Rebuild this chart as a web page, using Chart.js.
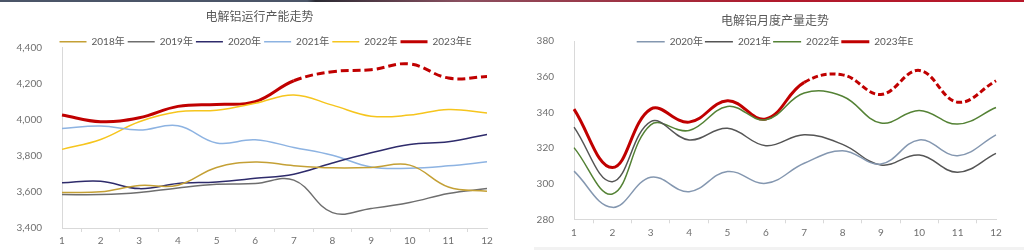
<!DOCTYPE html>
<html>
<head>
<meta charset="utf-8">
<script src="https://cdn.jsdelivr.net/npm/chart.js@4"></script>
<style>
  html, body { margin: 0; padding: 0; background: #fff; }
  body { width: 1024px; height: 250px; position: relative; overflow: hidden; }
  .topbar { position: absolute; left: 0; top: 0; width: 1024px; height: 2px; z-index: 2;
    background: linear-gradient(to right, #4b5568 0%, #4b5568 30%, #2a2a33 30.8%, #8a5060 45%, #b01a2c 75%, #b8182a 100%); }
  .box { position: absolute; top: 0; width: 512px; height: 250px; }
  #left { left: 0; }
  #right { left: 512px; }
  .band { position: absolute; left: 534px; top: 247px; width: 490px; height: 3px; background: #f2f2f2; }
</style>
</head>
<body>
<div class="topbar"></div>
<div class="band"></div>
<div class="box" id="left"><canvas id="c1" width="512" height="250"></canvas></div>
<div class="box" id="right"><canvas id="c2" width="512" height="250"></canvas></div>
<script>
// 月份
const months = ['1', '2', '3', '4', '5', '6', '7', '8', '9', '10', '11', '12'];

// 电解铝运行产能 (万吨)
const cap2018 = [3596, 3600, 3635, 3637, 3735, 3765, 3745, 3733, 3735, 3748, 3627, 3603];
const cap2019 = [3585, 3585, 3596, 3622, 3642, 3646, 3665, 3485, 3508, 3541, 3591, 3618];
const cap2020 = [3650, 3659, 3618, 3646, 3655, 3675, 3698, 3760, 3816, 3862, 3877, 3918];
const cap2021 = [3951, 3964, 3942, 3966, 3871, 3888, 3846, 3803, 3738, 3731, 3744, 3766];
const cap2022 = [3835, 3890, 3988, 4043, 4052, 4090, 4136, 4080, 4019, 4025, 4056, 4037];
const cap2023E = [4025, 3988, 4010, 4073, 4084, 4099, 4215, 4265, 4276, 4308, 4230, 4238];

// 电解铝月度产量 (万吨)
const out2020 = [307, 286.7, 303.6, 295.5, 306.8, 300.2, 311.4, 318.5, 311, 324.5, 315.7, 327.4];
const out2021 = [331.7, 301.1, 334.8, 324.5, 331, 321.3, 327.4, 322, 310.5, 316, 306.4, 317];
const out2022 = [320.2, 294.2, 333, 329.8, 343.3, 335.8, 350.8, 349, 334, 341, 333.4, 342.7];
const out2023E = [341.8, 309, 341.8, 334.5, 346.5, 336.3, 356.8, 361, 350, 363.5, 345.7, 357.7];

// 实际值到第7个月，之后为预测(虚线)
const lastActual = 6;

const fontFamily = "Lato, 'Noto Sans CJK SC', sans-serif";
const grey = '#6f6f6f';
const axisGrey = '#d9d9d9';

// 图例贴近绘图区、标题居中微调
const nudge = {
  id: 'nudge',
  afterLayout(chart, args, opts) {
    const lg = chart.legend;
    const tt = chart.titleBlock;
    lg.left += opts.legendDx;
    lg.right += opts.legendDx;
    lg.bottom += opts.legendClip;
    lg.height += opts.legendClip;
    tt.left += opts.titleDx;
    tt.right += opts.titleDx;
  }
};

function line(label, data, color, width) {
  return {
    label: label,
    data: data,
    borderColor: color,
    backgroundColor: color,
    borderWidth: width,
    pointRadius: 0,
    tension: 0.4,
    fill: false
  };
}

function forecast(label, data, dash) {
  const ds = line(label, data, '#c00000', 3);
  ds.borderDash = dash;
  ds.segment = {
    borderDash: ctx => (ctx.p0DataIndex < lastActual ? [] : undefined)
  };
  return ds;
}

function makeOptions(cfg) {
  return {
    responsive: false,
    animation: false,
    layout: { padding: cfg.padding },
    plugins: {
      nudge: cfg.nudge,
      title: {
        display: true,
        text: cfg.title,
        color: '#595959',
        font: { family: fontFamily, size: 12, weight: 'normal' },
        padding: cfg.titlePad
      },
      legend: {
        display: true,
        position: 'top',
        maxHeight: cfg.legendHeight,
        labels: {
          usePointStyle: true,
          pointStyle: 'line',
          pointStyleWidth: cfg.legendLine,
          padding: cfg.legendPad,
          color: '#595959',
          font: { family: fontFamily, size: 10 }
        }
      },
      tooltip: { enabled: false }
    },
    scales: {
      x: {
        grid: { display: true, offset: true, drawOnChartArea: false, drawTicks: true, tickLength: 4, color: axisGrey },
        border: { display: true, color: axisGrey },
        ticks: { color: grey, padding: 3, font: { family: fontFamily, size: 10 } }
      },
      y: {
        min: cfg.min,
        max: cfg.max,
        afterFit: axis => { axis.width = cfg.axisWidth; },
        grid: { display: false },
        border: { display: true, color: axisGrey },
        ticks: { stepSize: cfg.step, color: grey, padding: 12, font: { family: fontFamily, size: 10 } }
      }
    }
  };
}

new Chart(document.getElementById('c1'), {
  type: 'line',
  data: {
    labels: months,
    datasets: [
      line('2018年', cap2018, '#c4a035', 1.5),
      line('2019年', cap2019, '#6e6e6e', 1.5),
      line('2020年', cap2020, '#2e2b6b', 1.5),
      line('2021年', cap2021, '#8db3e2', 1.5),
      line('2022年', cap2022, '#f6c51d', 1.5),
      forecast('2023年E', cap2023E, [8, 4])
    ]
  },
  plugins: [nudge],
  options: makeOptions({
    title: '电解铝运行产能走势',
    padding: { left: 12, right: 25, top: 0, bottom: 0 },
    titlePad: { top: 9.5, bottom: 9.8 },
    legendHeight: 13.6,
    legendLine: 27,
    legendPad: 3,
    nudge: { legendDx: 16, legendClip: 3, titleDx: 10 },
    min: 3400, max: 4400, step: 200,
    axisWidth: 50
  })
});

new Chart(document.getElementById('c2'), {
  type: 'line',
  data: {
    labels: months,
    datasets: [
      line('2020年', out2020, '#8497b0', 1.5),
      line('2021年', out2021, '#555555', 1.5),
      line('2022年', out2022, '#548235', 1.5),
      forecast('2023年E', out2023E, [6, 3])
    ]
  },
  plugins: [nudge],
  options: makeOptions({
    title: '电解铝月度产量走势',
    padding: { left: 22, right: 28, top: 0, bottom: 8.7 },
    titlePad: { top: 13.5, bottom: 6.8 },
    legendHeight: 6.3,
    legendLine: 28,
    legendPad: 2,
    nudge: { legendDx: 10, legendClip: 8, titleDx: 10 },
    min: 280, max: 380, step: 20,
    axisWidth: 40
  })
});
</script>
</body>
</html>
